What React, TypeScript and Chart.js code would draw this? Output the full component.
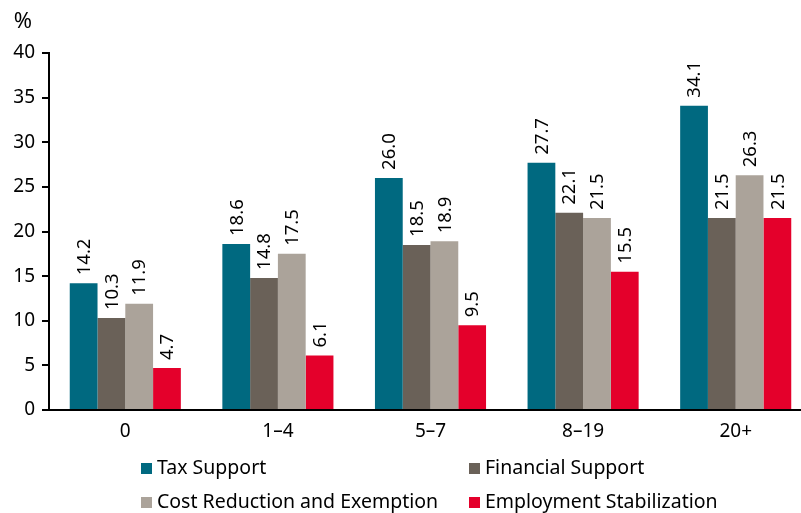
import React, { useEffect, useRef } from "react";
import { Chart, registerables } from "chart.js";

Chart.register(...registerables);

const categories = ["0", "1–4", "5–7", "8–19", "20+"];
const seriesNames = [
  "Tax Support",
  "Financial Support",
  "Cost Reduction and Exemption",
  "Employment Stabilization",
];
const taxSupport = [14.2, 18.6, 26.0, 27.7, 34.1];
const financialSupport = [10.3, 14.8, 18.5, 22.1, 21.5];
const costReduction = [11.9, 17.5, 18.9, 21.5, 26.3];
const employmentStab = [4.7, 6.1, 9.5, 15.5, 21.5];
const colors = ["#006980", "#6a6158", "#aba39a", "#e4002b"];
const yTicks = [0, 5, 10, 15, 20, 25, 30, 35, 40];

const FONT = "'Noto Sans', 'DejaVu Sans', sans-serif";

const labelPlugin = {
  id: "barLabels",
  afterDatasetsDraw(chart: any) {
    const ctx = chart.ctx;
    ctx.save();
    ctx.fillStyle = "#000";
    ctx.font = `18.5px ${FONT}`;
    ctx.textAlign = "left";
    ctx.textBaseline = "middle";
    chart.data.datasets.forEach((ds: any, di: number) => {
      const meta = chart.getDatasetMeta(di);
      meta.data.forEach((el: any, i: number) => {
        const v = ds.data[i];
        ctx.save();
        ctx.translate(el.x, el.y - 8);
        ctx.rotate(-Math.PI / 2);
        ctx.fillText(v.toFixed(1), 0, 1);
        ctx.restore();
      });
    });
    ctx.restore();
  },
};

const extrasPlugin = {
  id: "extras",
  afterDraw(chart: any) {
    const ctx = chart.ctx;
    ctx.save();
    ctx.fillStyle = "#000";
    ctx.font = `22px ${FONT}`;
    ctx.textAlign = "center";
    ctx.textBaseline = "alphabetic";
    ctx.fillText("%", 23, 28);
    // legend in two columns
    const pos = [
      [141, 463],
      [469, 463],
      [141, 497],
      [469, 497],
    ];
    ctx.font = `19.5px ${FONT}`;
    ctx.textAlign = "left";
    seriesNames.forEach((name, i) => {
      const [x, y] = pos[i];
      ctx.fillStyle = colors[i];
      ctx.fillRect(x, y, 11, 11);
      ctx.fillStyle = "#000";
      ctx.fillText(name, x + 16, y + 11);
    });
    ctx.restore();
  },
};

export default function App() {
  const ref = useRef<HTMLCanvasElement>(null);
  useEffect(() => {
    if (!ref.current) return;
    const series = [taxSupport, financialSupport, costReduction, employmentStab];
    const chart = new Chart(ref.current, {
      type: "bar",
      data: {
        labels: categories,
        datasets: series.map((d, i) => ({
          label: seriesNames[i],
          data: d,
          backgroundColor: colors[i],
          borderWidth: 0,
          categoryPercentage: 0.728,
          barPercentage: 1,
        })),
      },
      options: {
        animation: false,
        responsive: false,
        devicePixelRatio: 1,
        layout: { padding: { top: 53, right: 1, left: 0, bottom: 0 } },
        plugins: {
          legend: { display: false },
          tooltip: { enabled: false },
        },
        scales: {
          x: {
            grid: { display: false },
            border: { display: true, color: "#000", width: 2 },
            ticks: {
              color: "#000",
              font: { family: FONT, size: 19 },
              padding: 2,
              maxRotation: 0,
            },
            afterFit(scale: any) {
              scale.height = 103;
            },
          },
          y: {
            min: 0,
            max: 40,
            afterBuildTicks(scale: any) {
              scale.ticks = yTicks.map((v) => ({ value: v }));
            },
            grid: {
              display: true,
              drawOnChartArea: false,
              drawTicks: true,
              tickLength: 7,
              color: "#000",
              lineWidth: 2,
            },
            border: { display: true, color: "#000", width: 2 },
            ticks: {
              color: "#000",
              font: { family: FONT, size: 19 },
              padding: 7,
            },
            afterFit(scale: any) {
              scale.width = 49;
            },
          },
        },
      },
      plugins: [labelPlugin, extrasPlugin],
    });
    return () => chart.destroy();
  }, []);
  return (
    <div
      style={{
        position: "fixed",
        left: 0,
        top: 0,
        width: 801,
        height: 513,
        overflow: "hidden",
        background: "#fff",
      }}
    >
      <canvas ref={ref} width={813} height={513} style={{ display: "block" }} />
    </div>
  );
}
